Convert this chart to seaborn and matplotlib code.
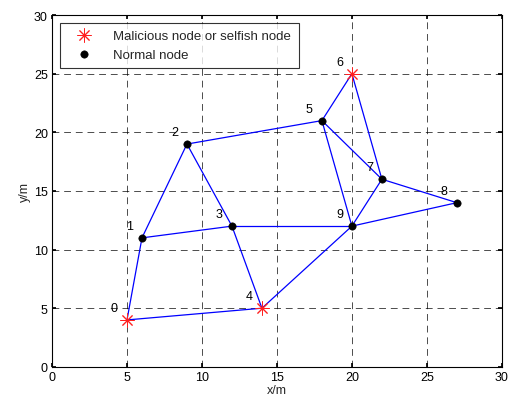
import numpy as np
import pandas as pd
import matplotlib
matplotlib.use("Agg")
import matplotlib.pyplot as plt
import seaborn as sns

# node data
node_ids = [0, 1, 2, 3, 4, 5, 6, 7, 8, 9]
node_x = [5, 6, 9, 12, 14, 18, 20, 22, 27, 20]
node_y = [4, 11, 19, 12, 5, 21, 25, 16, 14, 12]
node_kind = ["bad", "ok", "ok", "ok", "bad", "ok", "bad", "ok", "ok", "ok"]

edges = [(0, 1), (0, 4), (1, 2), (1, 3), (2, 3), (2, 5), (3, 4), (3, 9),
         (4, 9), (5, 6), (5, 9), (5, 7), (6, 7), (7, 8), (9, 8), (7, 9)]

sns.set_theme(style="white")
plt.rcParams["font.family"] = ["Liberation Sans", "DejaVu Sans"]

df = pd.DataFrame({"id": node_ids, "x": node_x, "y": node_y, "kind": node_kind})

fig = plt.figure(figsize=(5.1, 4.02), dpi=100)
ax = fig.add_axes([0.102, 0.085, 0.882, 0.875])
fig.patch.set_facecolor("white")

# edges
for a, b in edges:
    ax.plot([node_x[a], node_x[b]], [node_y[a], node_y[b]], color="#0000ff", lw=0.9, zorder=2)

bad = df[df["kind"] == "bad"]
ok = df[df["kind"] == "ok"]
ax.plot(bad["x"], bad["y"], linestyle="none", marker=(8, 2, 0), markersize=10,
        markeredgewidth=0.7, color="#ff2020", zorder=3,
        label="Malicious node or selfish node")
sns.scatterplot(data=ok, x="x", y="y", color="black", s=28, edgecolor="black",
                zorder=3, ax=ax, label="Normal node")

for i, xx, yy in zip(node_ids, node_x, node_y):
    ax.annotate(str(i), (xx, yy), xytext=(-9, 8.5), textcoords="offset points",
                ha="center", va="center", fontsize=9, color="black")

ax.set_xlim(0, 30)
ax.set_ylim(0, 30)
ax.set_xticks(range(0, 31, 5))
ax.set_yticks(range(0, 31, 5))
ax.set_xlabel("x/m", fontsize=9, labelpad=1)
ax.set_ylabel("y/m", fontsize=9, labelpad=2)
ax.tick_params(labelsize=9, direction="in", length=3, pad=3, colors="black")
ax.tick_params(bottom=True, left=True, top=True, right=True)
ax.grid(True, color="black", linestyle=(0, (7, 5)), linewidth=0.7, alpha=0.7)
for s in ax.spines.values():
    s.set_color("black")
    s.set_linewidth(0.8)

leg = ax.legend(loc="upper left", fontsize=9.5, frameon=True, fancybox=False,
                edgecolor="black", borderpad=0.55, handlelength=2.6,
                handletextpad=0.9, labelspacing=0.45, borderaxespad=0.6)
leg.get_frame().set_linewidth(0.8)

fig.savefig("out.png", dpi=100)
